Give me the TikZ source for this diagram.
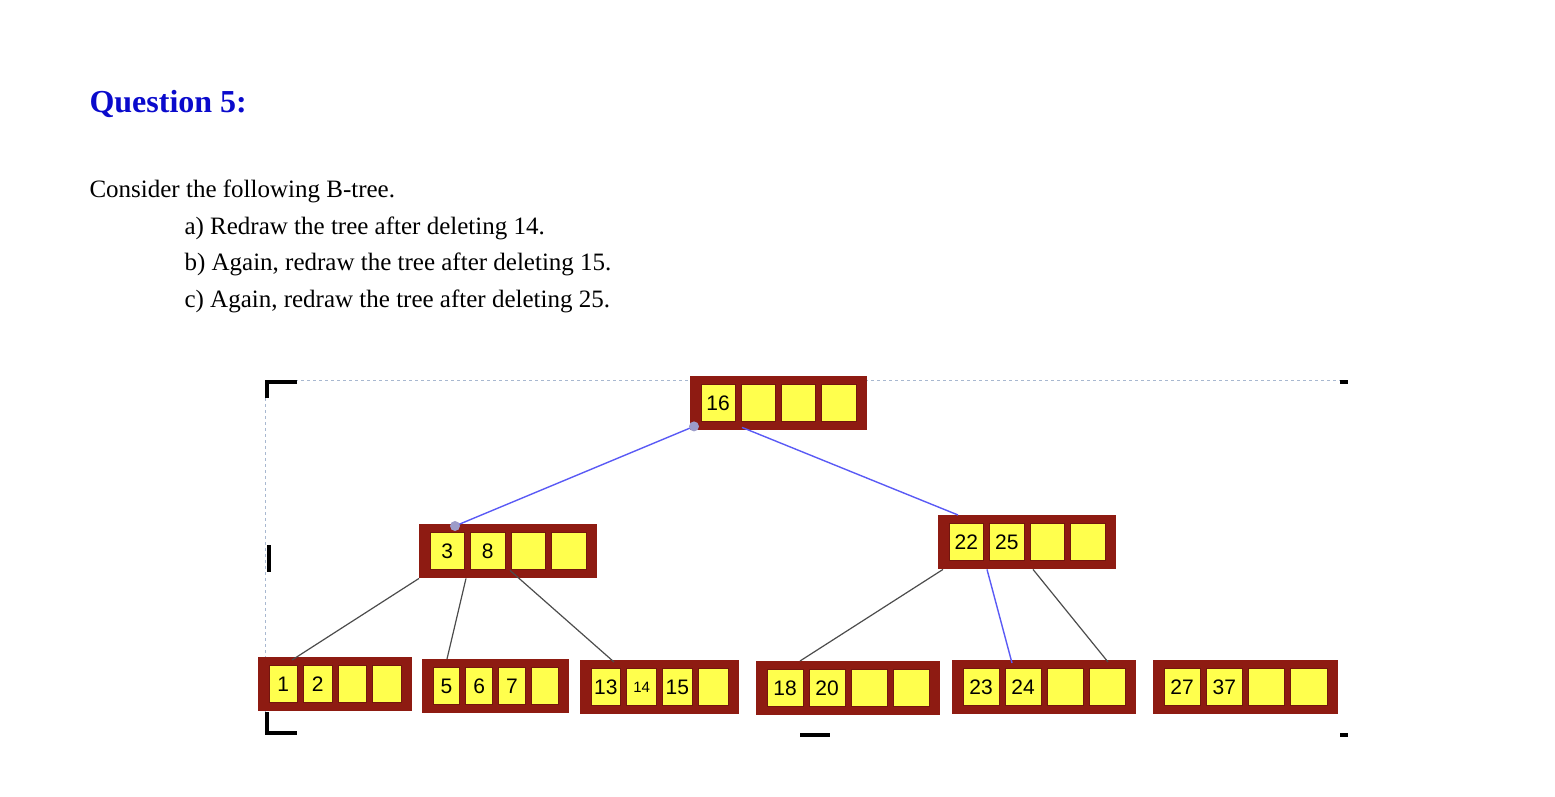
\documentclass[tikz,border=0pt]{standalone}
\usepackage{fontspec}
\setmainfont{Liberation Serif}
\newfontfamily\cellfont{Liberation Sans}
\definecolor{nodered}{HTML}{8E1B12}
\definecolor{cellyel}{HTML}{FFFF4D}
\definecolor{qblue}{HTML}{0A0ACC}
\definecolor{edgeblue}{HTML}{5A5AF5}
\definecolor{dashblue}{HTML}{A8B8D0}
\tikzset{
  btnode/.style={draw=none,fill=nodered,minimum width=#1,minimum height=54pt,inner sep=0pt},
  cellbox/.style={fill=cellyel,draw=nodered!80!black,line width=0.6pt,minimum width=30pt,minimum height=37pt,inner sep=0pt,font=\cellfont\fontsize{21}{21}\selectfont},
  blk/.style={draw=black!70,line width=1.2pt},
  blu/.style={draw=edgeblue,line width=1.4pt},
  handle/.style={line width=4pt,black},
  dotp/.style={circle,fill=gray!70!blue!60,inner sep=0pt,minimum size=10pt},
  txt/.style={anchor=base west,font=\fontsize{25}{25}\selectfont}
}
% #1 name, #2 left x, #3 top y, #4 width, #5-#8 labels
\newcommand{\btree}[8]{%
  \node[btnode=#4pt,anchor=north west] (#1) at (#2,#3) {};
  \pgfmathsetmacro{\cw}{(#4-16)/4}
  \foreach \i/\t in {0/{#5},1/{#6},2/{#7},3/{#8}}{
    \node[cellbox,minimum width=\cw pt-6pt] at ($(#1.west)+(8+\cw*\i+\cw/2,0)$) {\t};
  }%
}
\usetikzlibrary{calc}
\begin{document}
\begin{tikzpicture}[x=1pt,y=-1pt]
\useasboundingbox (0,0) rectangle (1555,796);
\node[txt,font=\bfseries\fontsize{32}{32}\selectfont,text=qblue] (title) at (86,112) {Question 5:};
\node[txt] (l1) at (86,197) {Consider the following B-tree.};
\node[txt] (l2) at (181,234) {a) Redraw the tree after deleting 14.};
\node[txt] (l3) at (181,270) {b) Again, redraw the tree after deleting 15.};
\node[txt] (l4) at (181,307) {c) Again, redraw the tree after deleting 25.};
% selection frame
\draw[dashblue,dashed,line width=1pt] (265,380) -- (1347,380);
\draw[dashblue,dashed,line width=1pt] (265,380) -- (265,735);
\draw[handle] (297,382) -- (267,382) -- (267,398);
\draw[handle] (269,545) -- (269,572);
\draw[handle] (267,712) -- (267,733) -- (297,733);
\draw[handle] (800,382) -- (830,382);
\draw[handle] (1340,382) -- (1348,382);
\draw[handle] (800,735) -- (830,735);
\draw[handle] (1340,735) -- (1348,735);
% nodes
\btree{r}{690}{376}{177}{16}{}{}{}
\btree{a}{419}{524}{178}{3}{8}{}{}
\btree{b}{938}{515}{178}{22}{25}{}{}
\btree{c1}{258}{657}{154}{1}{2}{}{}
\btree{c2}{422}{659}{147}{5}{6}{7}{}
\btree{c3}{580}{660}{159}{13}{\fontsize{15}{15}\selectfont 14}{15}{}
\btree{c4}{756}{661}{184}{18}{20}{}{}
\btree{c5}{952}{660}{184}{23}{24}{}{}
\btree{c6}{1153}{660}{185}{27}{37}{}{}
% connectors
\coordinate (ra) at ($(r.south west)+(4,-4)$);
\coordinate (rb) at ($(r.south west)+(52,-3)$);
\coordinate (at) at ($(a.north west)+(36,2)$);
\coordinate (bt) at ($(b.north west)+(20,0)$);
\draw[blu] (ra) -- (at);
\draw[blu] (rb) -- (bt);
\node[dotp] at (ra) {};
\node[dotp] at (at) {};
\draw[blk] (a.south west) -- ($(c1.north west)+(34,3)$);
\draw[blk] ($(a.south west)+(47,0)$) -- ($(c2.north west)+(25,0)$);
\draw[blk] ($(a.south west)+(91,-8)$) -- ($(c3.north west)+(34,2)$);
\draw[blk] ($(b.south west)+(5,0)$) -- ($(c4.north west)+(44,0)$);
\draw[blu] ($(b.south west)+(49,0)$) -- ($(c5.north west)+(60,3)$);
\draw[blk] ($(b.south west)+(95,0)$) -- ($(c6.north west)+(-45,2)$);
\end{tikzpicture}
\end{document}
